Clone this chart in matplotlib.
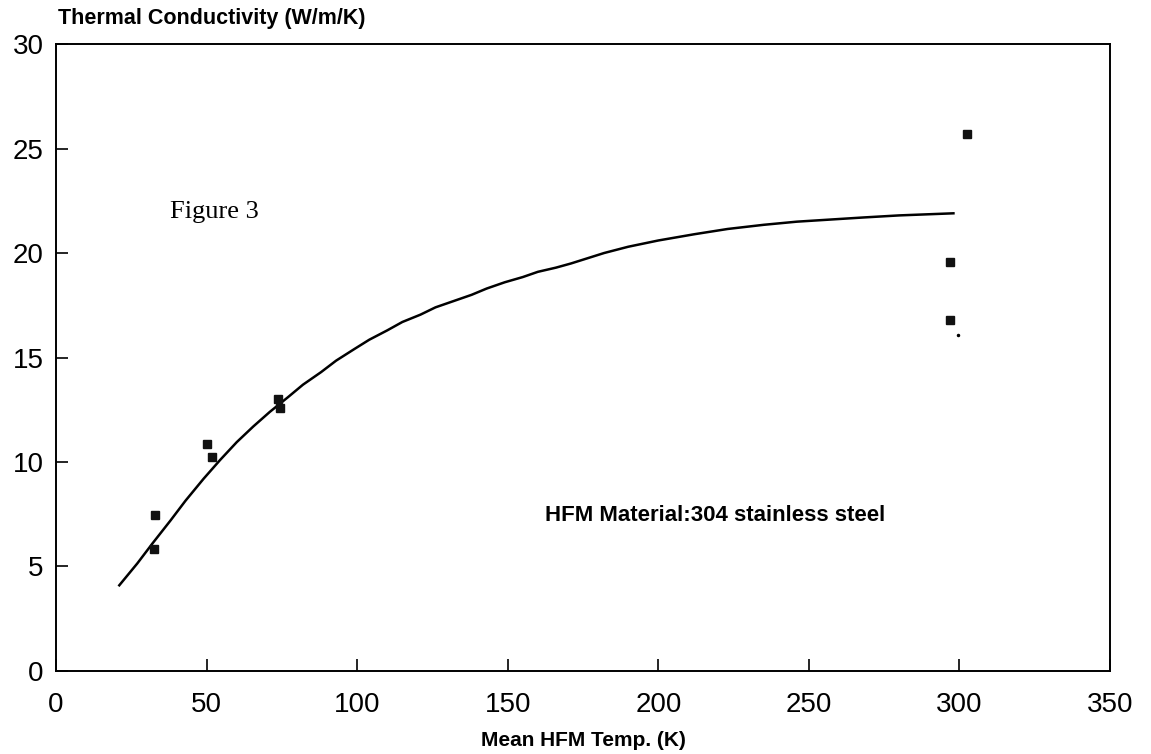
#!/usr/bin/env python3
"""
Thermal conductivity of the HFM material vs mean HFM temperature (Figure 3)
"""

import matplotlib
matplotlib.use('Agg')
import matplotlib.pyplot as plt

# measured points
meas_temp = [32.9, 32.5, 50.1, 51.8, 73.7, 74.4, 302.6, 296.9, 296.9]
meas_k = [7.48, 5.85, 10.84, 10.26, 13.0, 12.6, 25.7, 19.57, 16.79]

# stray speck next to the room-temperature points
speck_temp = [299.6]
speck_k = [16.07]

# fitted curve
fit_temp = [21, 27, 32, 38, 43, 49, 54.5, 60, 65.5, 71, 77, 82, 88, 93, 99,
            104, 110, 115, 121, 126, 132, 138, 143, 149, 155, 160, 166, 171,
            182, 190, 200, 212, 223, 235, 246, 257, 268, 280, 289, 298]
fit_k = [4.1, 5.15, 6.1, 7.2, 8.15, 9.2, 10.1, 10.95, 11.7, 12.4, 13.1, 13.7,
         14.3, 14.85, 15.4, 15.85, 16.3, 16.7, 17.05, 17.4, 17.7, 18.0, 18.3,
         18.6, 18.85, 19.1, 19.3, 19.5, 20.0, 20.3, 20.6, 20.9, 21.15, 21.35,
         21.5, 21.6, 21.7, 21.8, 21.85, 21.9]

x_ticks = [0, 50, 100, 150, 200, 250, 300, 350]
y_ticks = [0, 5, 10, 15, 20, 25, 30]

plt.rcParams['font.family'] = ['Liberation Sans', 'DejaVu Sans']

fig = plt.figure(figsize=(11.51, 7.54), dpi=100)
ax = fig.add_axes([0.0487, 0.1101, 0.9157, 0.8315])

ax.plot(fit_temp, fit_k, color='black', linewidth=1.8)
ax.plot(meas_temp, meas_k, linestyle='none', marker='s', markersize=5.5,
        color='#111111')
ax.plot(speck_temp, speck_k, linestyle='none', marker='o', markersize=1.5,
        color='black')

ax.set_xlim(0, 350)
ax.set_ylim(0, 30)
ax.set_xticks(x_ticks)
ax.set_yticks(y_ticks)
ax.tick_params(axis='both', direction='in', length=8.5, width=1.2,
               labelsize=20, colors='black')
ax.tick_params(axis='x', pad=15)
ax.tick_params(axis='y', pad=9)

for sp in ax.spines.values():
    sp.set_linewidth(1.4)

# axis titles placed like the original: y title above the plot, x title below
fig.text(0.5065, 0.018, 'Mean HFM Temp. (K)', fontsize=15, fontweight='bold',
         ha='center', va='center')
fig.text(0.0504, 0.975, 'Thermal Conductivity (W/m/K)', fontsize=15.5,
         fontweight='bold', ha='left', va='center')

ax.text(37.9, 21.97, 'Figure 3', family='Liberation Serif', fontsize=19,
        ha='left', va='center')
ax.text(162.4, 7.43, 'HFM Material:304 stainless steel', fontsize=16,
        fontweight='bold', ha='left', va='center')

plt.savefig('out.png', dpi=100)
plt.close()
